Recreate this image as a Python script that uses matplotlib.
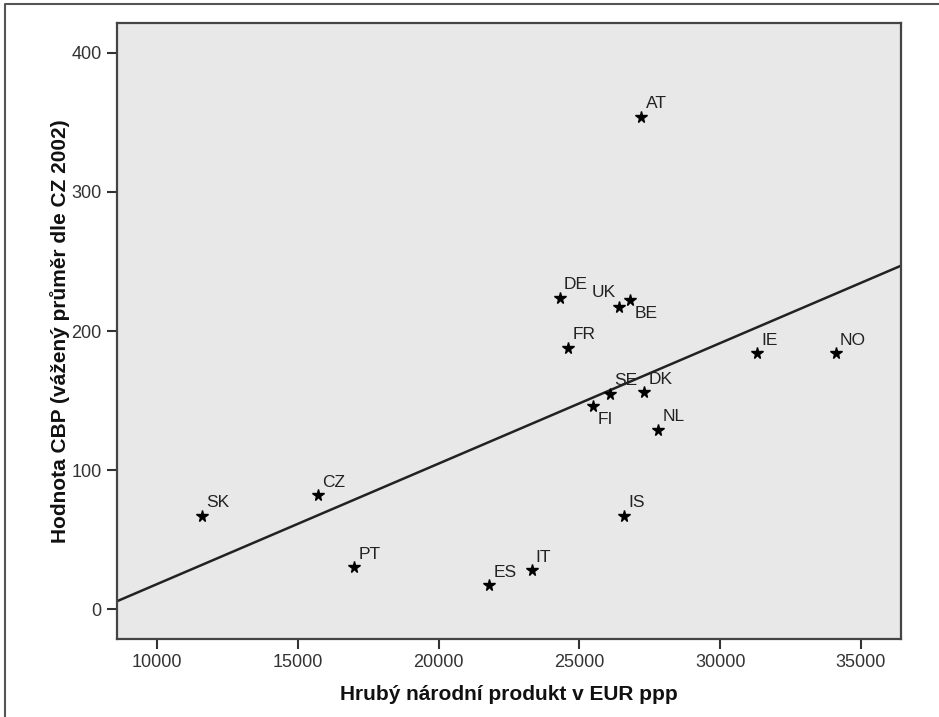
import numpy as np
import matplotlib.pyplot as plt
from matplotlib.lines import Line2D

plt.rcParams['font.family'] = ['Liberation Sans', 'DejaVu Sans']

countries = ['AT', 'DE', 'UK', 'BE', 'FR', 'SE', 'DK', 'FI', 'NL', 'IE', 'NO',
             'IS', 'SK', 'CZ', 'PT', 'ES', 'IT']
gnp = [27200, 24300, 26400, 26800, 24600, 26100, 27300, 25500, 27800, 31300, 34100,
       26600, 11600, 15700, 17000, 21800, 23300]
cbp = [354, 224, 217, 222, 188, 155, 156, 146, 129, 184, 184,
       67, 67, 82, 30, 17, 28]

# fitted line: intercept, slope
fit_a, fit_b = -68.7, 0.008667

# label offsets in points (dx, dy, ha, va)
offsets = {'UK': (-2, 5, 'right', 'bottom'),
           'BE': (3, -4, 'left', 'top'),
           'FI': (3, -4, 'left', 'top')}

fig = plt.figure(figsize=(9.39, 7.17), dpi=100)
ax = fig.add_axes([117 / 939, 1 - 639 / 717, (901 - 117) / 939, (639 - 23) / 717])
ax.set_facecolor('#e8e8e8')

xlim = (8580, 36420)
ax.set_xlim(*xlim)
ax.set_ylim(-21.5, 421.5)

xs = np.array(xlim)
ax.plot(xs, fit_a + fit_b * xs, color='#222222', lw=1.8, zorder=2)

ax.plot(gnp, cbp, linestyle='none', marker='*', ms=8.5, color='black', zorder=3)
for c, x, y in zip(countries, gnp, cbp):
    dx, dy, ha, va = offsets.get(c, (3, 4, 'left', 'bottom'))
    ax.annotate(c, (x, y), xytext=(dx, dy), textcoords='offset points',
                ha=ha, va=va, fontsize=12.5, color='#222222', zorder=4)

ax.set_xticks([10000, 15000, 20000, 25000, 30000, 35000])
ax.set_yticks([0, 100, 200, 300, 400])
ax.tick_params(direction='out', length=7, width=1.5, color='#333333',
               labelsize=13, labelcolor='#333333', pad=4)
for s in ax.spines.values():
    s.set_color('#444444')
    s.set_linewidth(1.6)

ax.set_xlabel('Hrubý národní produkt v EUR ppp', fontsize=15, fontweight='bold',
              color='#111111', labelpad=10)
ax.set_ylabel('Hodnota CBP (vážený průměr dle CZ 2002)', fontsize=15,
              fontweight='bold', color='#111111', labelpad=1)

# outer frame (left and top edges)
fig.add_artist(Line2D([5 / 939, 5 / 939, 1], [0, 1 - 4 / 717, 1 - 4 / 717],
                      transform=fig.transFigure, color='#555555', lw=1.5))

fig.savefig('out.png', dpi=100)
